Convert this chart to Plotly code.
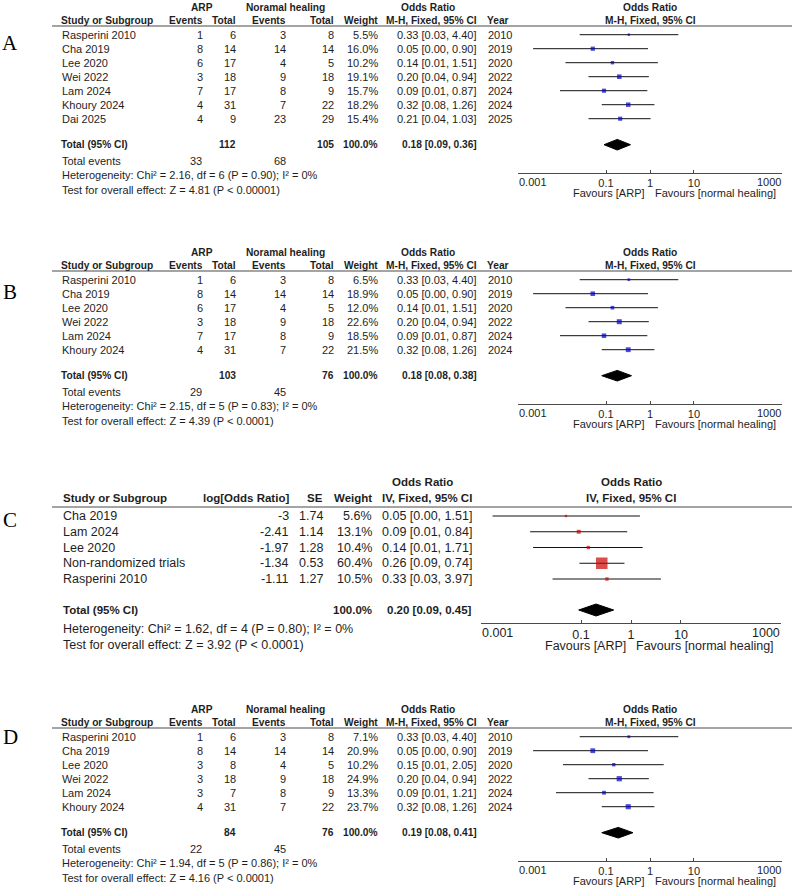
import math
import plotly.graph_objects as go

W, H = 792, 890

# ------------------------------------------------------------------ data
# Panel A  (M-H, fixed)
a_studies = ["Rasperini 2010", "Cha 2019", "Lee 2020", "Wei 2022", "Lam 2024", "Khoury 2024", "Dai 2025"]
a_arp_events = [1, 8, 6, 3, 7, 4, 4]
a_arp_total = [6, 14, 17, 18, 17, 31, 9]
a_nh_events = [3, 14, 4, 9, 8, 7, 23]
a_nh_total = [8, 14, 5, 18, 9, 22, 29]
a_weight = [5.5, 16.0, 10.2, 19.1, 15.7, 18.2, 15.4]
a_or = [0.33, 0.05, 0.14, 0.20, 0.09, 0.32, 0.21]
a_lo = [0.0252, 0.0022, 0.012, 0.04, 0.009, 0.08, 0.04]
a_hi = [4.40, 0.90, 1.51, 0.94, 0.87, 1.26, 1.03]
a_year = [2010, 2019, 2020, 2022, 2024, 2024, 2025]
a_totals = [112, 105]
a_total_weight = 100.0
a_total_events = [33, 68]
a_pooled = [0.18, 0.09, 0.36]
a_het = "Heterogeneity: Chi² = 2.16, df = 6 (P = 0.90); I² = 0%"
a_test = "Test for overall effect: Z = 4.81 (P < 0.00001)"

# Panel B  (M-H, fixed)
b_studies = ["Rasperini 2010", "Cha 2019", "Lee 2020", "Wei 2022", "Lam 2024", "Khoury 2024"]
b_arp_events = [1, 8, 6, 3, 7, 4]
b_arp_total = [6, 14, 17, 18, 17, 31]
b_nh_events = [3, 14, 4, 9, 8, 7]
b_nh_total = [8, 14, 5, 18, 9, 22]
b_weight = [6.5, 18.9, 12.0, 22.6, 18.5, 21.5]
b_or = [0.33, 0.05, 0.14, 0.20, 0.09, 0.32]
b_lo = [0.0252, 0.0022, 0.012, 0.04, 0.009, 0.08]
b_hi = [4.40, 0.90, 1.51, 0.94, 0.87, 1.26]
b_year = [2010, 2019, 2020, 2022, 2024, 2024]
b_totals = [103, 76]
b_total_weight = 100.0
b_total_events = [29, 45]
b_pooled = [0.18, 0.08, 0.38]
b_het = "Heterogeneity: Chi² = 2.15, df = 5 (P = 0.83); I² = 0%"
b_test = "Test for overall effect: Z = 4.39 (P < 0.0001)"

# Panel C  (IV, fixed)
c_studies = ["Cha 2019", "Lam 2024", "Lee 2020", "Non-randomized trials", "Rasperini 2010"]
c_log_or = [-3, -2.41, -1.97, -1.34, -1.11]
c_se = [1.74, 1.14, 1.28, 0.53, 1.27]
c_weight = [5.6, 13.1, 10.4, 60.4, 10.5]
c_or = [0.05, 0.09, 0.14, 0.26, 0.33]
c_lo = [0.0017, 0.0096, 0.011, 0.093, 0.027]
c_hi = [1.51, 0.84, 1.71, 0.74, 3.97]
c_total_weight = 100.0
c_pooled = [0.20, 0.09, 0.45]
c_het = "Heterogeneity: Chi² = 1.62, df = 4 (P = 0.80); I² = 0%"
c_test = "Test for overall effect: Z = 3.92 (P < 0.0001)"

# Panel D  (M-H, fixed)
d_studies = ["Rasperini 2010", "Cha 2019", "Lee 2020", "Wei 2022", "Lam 2024", "Khoury 2024"]
d_arp_events = [1, 8, 3, 3, 3, 4]
d_arp_total = [6, 14, 8, 18, 7, 31]
d_nh_events = [3, 14, 4, 9, 8, 7]
d_nh_total = [8, 14, 5, 18, 9, 22]
d_weight = [7.1, 20.9, 10.2, 24.9, 13.3, 23.7]
d_or = [0.33, 0.05, 0.15, 0.20, 0.09, 0.32]
d_lo = [0.0252, 0.0022, 0.0105, 0.04, 0.0073, 0.08]
d_hi = [4.40, 0.90, 2.05, 0.94, 1.21, 1.26]
d_year = [2010, 2019, 2020, 2022, 2024, 2024]
d_totals = [84, 76]
d_total_weight = 100.0
d_total_events = [22, 45]
d_pooled = [0.19, 0.08, 0.41]
d_het = "Heterogeneity: Chi² = 1.94, df = 5 (P = 0.86); I² = 0%"
d_test = "Test for overall effect: Z = 4.16 (P < 0.0001)"

axis_ticks = [0.001, 0.1, 1, 10, 1000]
axis_ticktext = ["0.001", "0.1", "1", "10", "1000"]

# ------------------------------------------------------------------ style
FONT = "Liberation Sans, Arial, sans-serif"
SERIF = "Liberation Serif, Times New Roman, serif"
TXT = "#1e1e1e"
LINE = "#4a4a4a"
BLUE = "#0000CC"
RED = "#CC0000"

fig = go.Figure()
annotations = []
shapes = []
layout_axes = {}


def f2(v):
    return f"{v:.2f}"


def ci_text(o, l, h):
    return f"{f2(o)} [{f2(l)}, {f2(h)}]"


def add_text(x, y, text, xanchor, yref, size, bold=False, xref="paper",
             family=FONT, xshift=0, color=TXT):
    if xref == "paper":
        x = x / W
    if bold:
        text = f"<b>{text}</b>"
    annotations.append(dict(x=x, y=y, xref=xref, yref=yref, text=text,
                            showarrow=False, xanchor=xanchor, yanchor="middle",
                            xshift=xshift, borderpad=0,
                            font=dict(family=family, size=size, color=color)))


def setup_axes(k, xdom_px, ydom_px, row0, s, axis_px, fsize):
    xn = "xaxis" if k == 1 else f"xaxis{k}"
    yn = "yaxis" if k == 1 else f"yaxis{k}"
    xref = "x" if k == 1 else f"x{k}"
    top, bot = ydom_px
    dom = [xdom_px[0] / W, xdom_px[1] / W]
    layout_axes[xn] = dict(
        type="log", domain=dom,
        range=[-3.001, 3.001], anchor="free", position=1 - axis_px / H,
        showline=True, linecolor=LINE, linewidth=1,
        ticks="inside", ticklen=3, tickcolor=LINE, tickwidth=1,
        tickvals=axis_ticks,
        ticktext=["" if t in ("0.001", "1000") else t for t in axis_ticktext],
        tickfont=dict(family=FONT, size=fsize, color=TXT),
        showgrid=False, zeroline=False, fixedrange=True)
    # companion axis: the lower half of the crossing tick marks
    layout_axes[f"xaxis{k + 4}"] = dict(
        type="log", domain=dom, overlaying=xref,
        range=[-3.001, 3.001], anchor="free", position=1 - axis_px / H,
        showline=False, ticks="outside", ticklen=3, tickcolor=LINE, tickwidth=1,
        tickvals=axis_ticks, showticklabels=False,
        showgrid=False, zeroline=False, fixedrange=True)
    layout_axes[yn] = dict(
        domain=[max(0, 1 - bot / H), min(1, 1 - top / H)],
        range=[(bot - row0) / s, (top - row0) / s],
        visible=False, anchor=xref, fixedrange=True)
    return xref, ("y" if k == 1 else f"y{k}")


def forest(xref, yref, lo, hi, orv, sizes, color, pooled, r_tot, dh):
    n = len(orv)
    xs, ys = [], []
    for i in range(n):
        xs += [lo[i], hi[i], None]
        ys += [i, i, None]
    fig.add_trace(go.Scatter(x=xs, y=ys, mode="lines", xaxis=xref, yaxis=yref,
                             line=dict(color="#111111", width=1),
                             hoverinfo="skip", showlegend=False))
    fig.add_trace(go.Scatter(x=orv, y=list(range(n)), mode="markers",
                             xaxis=xref, yaxis=yref,
                             marker=dict(symbol="square", size=sizes, color=color,
                                         line=dict(width=0)),
                             showlegend=False, cliponaxis=False))
    est, plo, phi = pooled
    fig.add_trace(go.Scatter(x=[plo, est, phi, est, plo],
                             y=[r_tot, r_tot - dh, r_tot, r_tot + dh, r_tot],
                             mode="lines", fill="toself", fillcolor="#000000",
                             line=dict(color="#000000", width=1),
                             xaxis=xref, yaxis=yref, showlegend=False,
                             hoverinfo="skip"))


def axis_extras(xref, axis_px, header_px, fsize, lab_dy, fav_dy):
    shapes.append(dict(type="line", xref=xref, yref="paper",
                       x0=math.log10(1), x1=math.log10(1),
                       y0=1 - axis_px / H, y1=1 - header_px / H,
                       line=dict(color=LINE, width=1), layer="below"))
    for tv, tt, anc in ((axis_ticks[0], axis_ticktext[0], "left"),
                        (axis_ticks[-1], axis_ticktext[-1], "right")):
        annotations.append(dict(x=math.log10(tv), xref=xref, y=1 - (axis_px + lab_dy) / H,
                                yref="paper", text=tt, showarrow=False,
                                xanchor=anc, yanchor="middle", borderpad=0,
                                font=dict(family=FONT, size=fsize, color=TXT)))
    annotations.append(dict(x=0, xref=xref, y=1 - (axis_px + fav_dy) / H, yref="paper",
                            text="Favours [ARP]", showarrow=False, xanchor="right",
                            yanchor="middle", xshift=-4, borderpad=0,
                            font=dict(family=FONT, size=fsize, color=TXT)))
    annotations.append(dict(x=0, xref=xref, y=1 - (axis_px + fav_dy) / H, yref="paper",
                            text="Favours [normal healing]", showarrow=False, xanchor="left",
                            yanchor="middle", xshift=4, borderpad=0,
                            font=dict(family=FONT, size=fsize, color=TXT)))


def panel_letter(letter, letter_y):
    annotations.append(dict(x=10 / W, y=1 - letter_y / H, xref="paper", yref="paper",
                            text=letter, showarrow=False, xanchor="center", yanchor="middle",
                            font=dict(family=SERIF, size=21, color="#000000")))


def mh_panel(k, L, letter, letter_y, studies, ae, at, ne, nt, w, orv, lo, hi, yr,
             totals, tot_w, tot_ev, pooled, het, test):
    n = len(studies)
    s = 14.0
    fs, fb = 11, 10.2
    row0 = L + 8.7
    top, bot = L - 26, min(H, L + 176)
    r_h1 = (L - 19 - row0) / s
    r_h2 = (L - 6 - row0) / s
    r_tot = (n - 1) + 26 / s
    r_ev = r_tot + 16 / s
    r_het = r_ev + 14.5 / s
    r_test = r_het + 14.5 / s
    axis_px = row0 + r_tot * s + 28
    xref, yref = setup_axes(k, (518, 782), (top, bot), row0, s, axis_px, fs)

    add_text(202, r_h1, "ARP", "center", yref, fb, True)
    add_text(285, r_h1, "Noramal healing", "center", yref, fb, True)
    add_text(428, r_h1, "Odds Ratio", "center", yref, fb, True)
    add_text(0, r_h1, "Odds Ratio", "center", yref, fb, True, xref=xref)
    add_text(60, r_h2, "Study or Subgroup", "left", yref, fb, True)
    add_text(204, r_h2, "Events", "right", yref, fb, True)
    add_text(237, r_h2, "Total", "right", yref, fb, True)
    add_text(287, r_h2, "Events", "right", yref, fb, True)
    add_text(335, r_h2, "Total", "right", yref, fb, True)
    add_text(379, r_h2, "Weight", "right", yref, fb, True)
    add_text(478, r_h2, "M-H, Fixed, 95% CI", "right", yref, fb, True)
    add_text(486, r_h2, "Year", "left", yref, fb, True)
    add_text(0, r_h2, "M-H, Fixed, 95% CI", "center", yref, fb, True, xref=xref)
    shapes.append(dict(type="line", xref="paper", yref="paper", x0=52 / W, x1=1,
                       y0=1 - L / H, y1=1 - L / H, line=dict(color=LINE, width=1.2)))

    for i in range(n):
        add_text(61, i, studies[i], "left", yref, fs)
        add_text(204, i, str(ae[i]), "right", yref, fs)
        add_text(237, i, str(at[i]), "right", yref, fs)
        add_text(287, i, str(ne[i]), "right", yref, fs)
        add_text(335, i, str(nt[i]), "right", yref, fs)
        add_text(379, i, f"{w[i]:.1f}%", "right", yref, fs)
        add_text(478, i, ci_text(orv[i], lo[i], hi[i]), "right", yref, fs)
        add_text(487, i, str(yr[i]), "left", yref, fs)

    add_text(60, r_tot, "Total (95% CI)", "left", yref, fb, True)
    add_text(237, r_tot, str(totals[0]), "right", yref, fb, True)
    add_text(335, r_tot, str(totals[1]), "right", yref, fb, True)
    add_text(379, r_tot, f"{tot_w:.1f}%", "right", yref, fb, True)
    add_text(478, r_tot, ci_text(*pooled), "right", yref, fb, True)
    add_text(61, r_ev, "Total events", "left", yref, fs)
    add_text(203, r_ev, str(tot_ev[0]), "right", yref, fs)
    add_text(287, r_ev, str(tot_ev[1]), "right", yref, fs)
    add_text(61, r_het, het, "left", yref, fs)
    add_text(61, r_test, test, "left", yref, fs)

    sizes = [max(2.2, 1.05 * math.sqrt(v)) for v in w]
    forest(xref, yref, lo, hi, orv, sizes, BLUE, pooled, r_tot, 0.38)
    axis_extras(xref, axis_px, L, fs, 9, 20)
    panel_letter(letter, letter_y)


def iv_panel(k, L, letter, letter_y, studies, logor, se, w, orv, lo, hi, tot_w, pooled, het, test):
    n = len(studies)
    s = 15.75
    fs, fb = 12.5, 11.5
    row0 = L + 9
    top, bot = L - 36, L + 160
    r_h1 = (L - 25 - row0) / s
    r_h2 = (L - 9 - row0) / s
    r_tot = (n - 1) + 31 / s
    r_het = r_tot + 19 / s
    r_test = r_het + 16 / s
    axis_px = row0 + r_tot * s + 13
    xref, yref = setup_axes(k, (481, 781), (top, bot), row0, s, axis_px, fs)

    add_text(422, r_h1, "Odds Ratio", "center", yref, fb, True)
    add_text(0, r_h1, "Odds Ratio", "center", yref, fb, True, xref=xref)
    add_text(62, r_h2, "Study or Subgroup", "left", yref, fb, True)
    add_text(290, r_h2, "log[Odds Ratio]", "right", yref, fb, True)
    add_text(324, r_h2, "SE", "right", yref, fb, True)
    add_text(373, r_h2, "Weight", "right", yref, fb, True)
    add_text(473, r_h2, "IV, Fixed, 95% CI", "right", yref, fb, True)
    add_text(0, r_h2, "IV, Fixed, 95% CI", "center", yref, fb, True, xref=xref)
    shapes.append(dict(type="line", xref="paper", yref="paper", x0=52 / W, x1=1,
                       y0=1 - L / H, y1=1 - L / H, line=dict(color=LINE, width=1.2)))

    for i in range(n):
        add_text(62, i, studies[i], "left", yref, fs)
        add_text(290, i, f"{logor[i]:g}", "right", yref, fs)
        add_text(324, i, f"{se[i]:.2f}", "right", yref, fs)
        add_text(373, i, f"{w[i]:.1f}%", "right", yref, fs)
        add_text(473, i, ci_text(orv[i], lo[i], hi[i]), "right", yref, fs)

    add_text(62, r_tot, "Total (95% CI)", "left", yref, fb, True)
    add_text(373, r_tot, f"{tot_w:.1f}%", "right", yref, fb, True)
    add_text(473, r_tot, ci_text(*pooled), "right", yref, fb, True)
    add_text(62, r_het, het, "left", yref, fs)
    add_text(62, r_test, test, "left", yref, fs)

    wmax = max(w)
    sizes = [max(2.4, 11.5 * (v / wmax) ** 0.7) for v in w]
    forest(xref, yref, lo, hi, orv, sizes, RED, pooled, r_tot, 0.38)
    axis_extras(xref, axis_px, L, fs, 9.5, 22.5)
    panel_letter(letter, letter_y)


mh_panel(1, 26, "A", 43, a_studies, a_arp_events, a_arp_total, a_nh_events, a_nh_total,
         a_weight, a_or, a_lo, a_hi, a_year, a_totals, a_total_weight, a_total_events,
         a_pooled, a_het, a_test)
mh_panel(2, 271, "B", 292, b_studies, b_arp_events, b_arp_total, b_nh_events, b_nh_total,
         b_weight, b_or, b_lo, b_hi, b_year, b_totals, b_total_weight, b_total_events,
         b_pooled, b_het, b_test)
iv_panel(3, 507, "C", 520, c_studies, c_log_or, c_se, c_weight, c_or, c_lo, c_hi,
         c_total_weight, c_pooled, c_het, c_test)
mh_panel(4, 728, "D", 737, d_studies, d_arp_events, d_arp_total, d_nh_events, d_nh_total,
         d_weight, d_or, d_lo, d_hi, d_year, d_totals, d_total_weight, d_total_events,
         d_pooled, d_het, d_test)

fig.update_layout(
    width=W, height=H, margin=dict(l=0, r=0, t=0, b=0),
    paper_bgcolor="white", plot_bgcolor="rgba(0,0,0,0)",
    showlegend=False, annotations=annotations, shapes=shapes,
    font=dict(family=FONT, size=11, color=TXT),
    **layout_axes,
)

fig.write_html(
    "out.html",
    config={"displayModeBar": False, "staticPlot": True},
    post_script="document.body.style.margin='0px';document.body.style.overflow='hidden';",
)
